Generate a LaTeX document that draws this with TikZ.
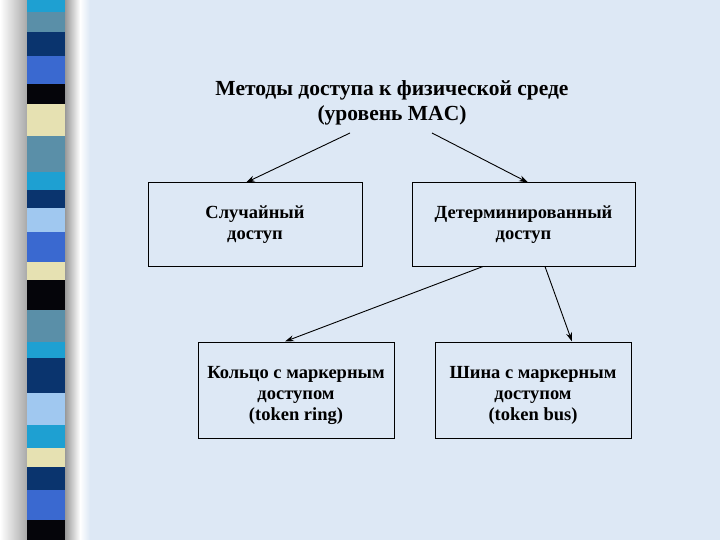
\documentclass[tikz,border=0pt]{standalone}
\usepackage{fontspec}
\setmainfont{Liberation Serif}
\usetikzlibrary{arrows.meta}
\definecolor{bgblue}{RGB}{221,232,245}
\definecolor{sqcyan}{RGB}{30,160,210}
\definecolor{sqteal}{RGB}{90,143,168}
\definecolor{sqnavy}{RGB}{10,52,110}
\definecolor{sqroyal}{RGB}{58,105,208}
\definecolor{sqcream}{RGB}{230,225,178}
\definecolor{sqlight}{RGB}{160,200,240}
\definecolor{sqblack}{RGB}{5,5,10}
\tikzset{
  x=1pt,y=-1pt,
  boxnode/.style={draw=black,line width=1pt,minimum width=#1,inner sep=0pt,align=center,font=\fontsize{18.5}{21}\selectfont\bfseries},
  arr/.style={line width=0.9pt,-{Stealth[length=9pt,width=6pt]}},
}
\begin{document}
\begin{tikzpicture}
\useasboundingbox (0,0) rectangle (720,540);
\fill[bgblue] (0,0) rectangle (720,540);
% left shadow gradient
\shade[left color=white,right color=gray!70] (0,0) rectangle (28,540);
\shade[left color=gray!80,right color=white] (65,0) rectangle (80,540);
\shade[left color=white,right color=bgblue] (80,0) rectangle (90,540);
% squares strip
\foreach \ya/\yb/\c in {0/12/sqcyan,12/32/sqteal,32/56/sqnavy,56/84/sqroyal,84/104/sqblack,104/136/sqcream,136/172/sqteal,172/190/sqcyan,190/208/sqnavy,208/232/sqlight,232/262/sqroyal,262/280/sqcream,280/310/sqblack,310/342/sqteal,342/358/sqcyan,358/393/sqnavy,393/425/sqlight,425/448/sqcyan,448/467/sqcream,467/490/sqnavy,490/520/sqroyal,520/540/sqblack}{
  \fill[\c] (27,\ya) rectangle (65,\yb);
}
% title
\node[align=center,font=\fontsize{21.5}{25}\selectfont\bfseries] (title) at (392,103) {Методы доступа к физической среде\\(уровень MAC)};
\coordinate (t1) at (350,133);
\coordinate (t2) at (432,133);
% boxes
\node[boxnode=214pt,minimum height=83pt] (rand) at (255,224.5) {Случайный\\доступ};
\node[boxnode=223pt,minimum height=83pt] (det) at (523.5,224.5) {Детерминированный\\доступ};
\node[boxnode=196pt,minimum height=96pt] (ring) at (296,390) {\rule{0pt}{23pt}Кольцо с маркерным\\доступом\\(token ring)};
\node[boxnode=196pt,minimum height=96pt] (bus) at (533,390) {\rule{0pt}{23pt}Шина с маркерным\\доступом\\(token bus)};
% arrows
\draw[arr] (t1) -- (rand.north -| 246,0);
\draw[arr] (t2) -- (det.north -| 528,0);
\draw[arr] (det.south -| 483,0) -- (ring.north -| 285,0);
\draw[arr] (det.south -| 545,0) -- (bus.north -| 572,0);
\end{tikzpicture}
\end{document}
